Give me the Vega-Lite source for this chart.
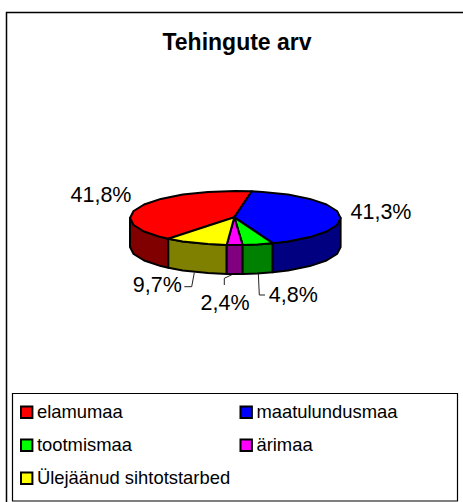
{
"$schema":"https://vega.github.io/schema/vega-lite/v6.json",
"width":463,"height":502,"padding":0,"autosize":{"type":"none"},
"background":"white",
"config":{"view":{"stroke":null}},
"title":{"text":"Tehingute arv","font":"Liberation Sans","fontSize":23,"fontWeight":"bold","color":"#000000","anchor":"middle","frame":"group","dx":5.5,"dy":55,"offset":0},
"datasets":{
"frames":[{"frame":"chart"}],
"outline":[
{"part":"elamumaa külg","i":0,"x":168.3,"y":238.8},{"part":"elamumaa külg","i":1,"x":160.8,"y":237.1},{"part":"elamumaa külg","i":2,"x":144.1,"y":231.5},{"part":"elamumaa külg","i":3,"x":133.6,"y":225},{"part":"elamumaa külg","i":4,"x":130,"y":218},{"part":"elamumaa külg","i":5,"x":130,"y":247},{"part":"elamumaa külg","i":6,"x":133.6,"y":254},{"part":"elamumaa külg","i":7,"x":144.1,"y":260.5},{"part":"elamumaa külg","i":8,"x":160.8,"y":266.1},{"part":"elamumaa külg","i":9,"x":168.3,"y":267.8},{"part":"elamumaa külg","i":10,"x":168.3,"y":238.8},
{"part":"Ülejäänud külg","i":0,"x":168.3,"y":238.8},{"part":"Ülejäänud külg","i":1,"x":182.7,"y":241.4},{"part":"Ülejäänud külg","i":2,"x":208,"y":244.1},{"part":"Ülejäänud külg","i":3,"x":226.7,"y":244.9},{"part":"Ülejäänud külg","i":4,"x":226.7,"y":273.9},{"part":"Ülejäänud külg","i":5,"x":208,"y":273.1},{"part":"Ülejäänud külg","i":6,"x":182.7,"y":270.4},{"part":"Ülejäänud külg","i":7,"x":168.3,"y":267.8},{"part":"Ülejäänud külg","i":8,"x":168.3,"y":238.8},
{"part":"ärimaa külg","i":0,"x":226.7,"y":244.9},{"part":"ärimaa külg","i":1,"x":242.6,"y":244.9},{"part":"ärimaa külg","i":2,"x":242.6,"y":273.9},{"part":"ärimaa külg","i":3,"x":226.7,"y":273.9},{"part":"ärimaa külg","i":4,"x":226.7,"y":244.9},
{"part":"tootmismaa külg","i":0,"x":242.6,"y":244.9},{"part":"tootmismaa külg","i":1,"x":257.2,"y":244.4},{"part":"tootmismaa külg","i":2,"x":272.7,"y":243.2},{"part":"tootmismaa külg","i":3,"x":272.7,"y":272.2},{"part":"tootmismaa külg","i":4,"x":257.2,"y":273.4},{"part":"tootmismaa külg","i":5,"x":242.6,"y":273.9},{"part":"tootmismaa külg","i":6,"x":242.6,"y":244.9},
{"part":"maatulundusmaa külg","i":0,"x":272.7,"y":243.2},{"part":"maatulundusmaa külg","i":1,"x":288,"y":241.4},{"part":"maatulundusmaa külg","i":2,"x":309.8,"y":237.1},{"part":"maatulundusmaa külg","i":3,"x":326.5,"y":231.5},{"part":"maatulundusmaa külg","i":4,"x":337,"y":225},{"part":"maatulundusmaa külg","i":5,"x":340.6,"y":218},{"part":"maatulundusmaa külg","i":6,"x":340.6,"y":247},{"part":"maatulundusmaa külg","i":7,"x":337,"y":254},{"part":"maatulundusmaa külg","i":8,"x":326.5,"y":260.5},{"part":"maatulundusmaa külg","i":9,"x":309.8,"y":266.1},{"part":"maatulundusmaa külg","i":10,"x":288,"y":270.4},{"part":"maatulundusmaa külg","i":11,"x":272.7,"y":272.2},{"part":"maatulundusmaa külg","i":12,"x":272.7,"y":243.2},
{"part":"elamumaa","i":0,"x":234.3,"y":217.3},{"part":"elamumaa","i":1,"x":168.3,"y":238.8},{"part":"elamumaa","i":2,"x":160.8,"y":237.1},{"part":"elamumaa","i":3,"x":144.1,"y":231.5},{"part":"elamumaa","i":4,"x":133.6,"y":225},{"part":"elamumaa","i":5,"x":130,"y":218},{"part":"elamumaa","i":6,"x":133.6,"y":211},{"part":"elamumaa","i":7,"x":144.1,"y":204.5},{"part":"elamumaa","i":8,"x":160.8,"y":198.9},{"part":"elamumaa","i":9,"x":182.7,"y":194.6},{"part":"elamumaa","i":10,"x":208,"y":191.9},{"part":"elamumaa","i":11,"x":235.3,"y":191},{"part":"elamumaa","i":12,"x":251.8,"y":191.3},{"part":"elamumaa","i":13,"x":234.3,"y":217.3},
{"part":"maatulundusmaa","i":0,"x":234.3,"y":217.3},{"part":"maatulundusmaa","i":1,"x":251.8,"y":191.3},{"part":"maatulundusmaa","i":2,"x":262.6,"y":191.9},{"part":"maatulundusmaa","i":3,"x":288,"y":194.6},{"part":"maatulundusmaa","i":4,"x":309.8,"y":198.9},{"part":"maatulundusmaa","i":5,"x":326.5,"y":204.5},{"part":"maatulundusmaa","i":6,"x":337,"y":211},{"part":"maatulundusmaa","i":7,"x":340.6,"y":218},{"part":"maatulundusmaa","i":8,"x":337,"y":225},{"part":"maatulundusmaa","i":9,"x":326.5,"y":231.5},{"part":"maatulundusmaa","i":10,"x":309.8,"y":237.1},{"part":"maatulundusmaa","i":11,"x":288,"y":241.4},{"part":"maatulundusmaa","i":12,"x":272.7,"y":243.2},{"part":"maatulundusmaa","i":13,"x":234.3,"y":217.3},
{"part":"tootmismaa","i":0,"x":234.3,"y":217.3},{"part":"tootmismaa","i":1,"x":272.7,"y":243.2},{"part":"tootmismaa","i":2,"x":257.2,"y":244.4},{"part":"tootmismaa","i":3,"x":242.6,"y":244.9},{"part":"tootmismaa","i":4,"x":234.3,"y":217.3},
{"part":"ärimaa","i":0,"x":234.3,"y":217.3},{"part":"ärimaa","i":1,"x":242.6,"y":244.9},{"part":"ärimaa","i":2,"x":226.7,"y":244.9},{"part":"ärimaa","i":3,"x":234.3,"y":217.3},
{"part":"Ülejäänud sihtotstarbed","i":0,"x":234.3,"y":217.3},{"part":"Ülejäänud sihtotstarbed","i":1,"x":226.7,"y":244.9},{"part":"Ülejäänud sihtotstarbed","i":2,"x":208,"y":244.1},{"part":"Ülejäänud sihtotstarbed","i":3,"x":182.7,"y":241.4},{"part":"Ülejäänud sihtotstarbed","i":4,"x":168.3,"y":238.8},{"part":"Ülejäänud sihtotstarbed","i":5,"x":234.3,"y":217.3}
],
"leaders":[
{"slice":"Ülejäänud sihtotstarbed","i":0,"x":194.3,"y":272.7},{"slice":"Ülejäänud sihtotstarbed","i":1,"x":191.7,"y":286.7},{"slice":"Ülejäänud sihtotstarbed","i":2,"x":184.3,"y":286.7},
{"slice":"ärimaa","i":0,"x":233.3,"y":274},{"slice":"ärimaa","i":1,"x":224.3,"y":278.3},{"slice":"ärimaa","i":2,"x":224.3,"y":285},
{"slice":"tootmismaa","i":0,"x":258.3,"y":272.7},{"slice":"tootmismaa","i":1,"x":259.3,"y":295},{"slice":"tootmismaa","i":2,"x":265,"y":295}
],
"labels":[
{"slice":"elamumaa","share":"41,8%","x":101,"y":195.5},
{"slice":"maatulundusmaa","share":"41,3%","x":381,"y":212.5},
{"slice":"Ülejäänud sihtotstarbed","share":"9,7%","x":157.3,"y":286},
{"slice":"ärimaa","share":"2,4%","x":225,"y":303.5},
{"slice":"tootmismaa","share":"4,8%","x":293.3,"y":295.5}
]
},
"encoding":{
 "x":{"type":"quantitative","scale":{"domain":[0,463],"range":[0,463],"nice":false,"zero":false},"axis":null},
 "y":{"type":"quantitative","scale":{"domain":[0,502],"range":[0,502],"nice":false,"zero":false},"axis":null}
},
"layer":[
{"data":{"name":"frames"},"mark":{"type":"rect","fill":"white","stroke":"#000000","strokeWidth":1.5,"clip":true},
 "encoding":{"x":{"datum":6.5},"x2":{"datum":470},"y":{"datum":12.5},"y2":{"datum":510}}},
{"data":{"name":"frames"},"mark":{"type":"rect","fill":"white","stroke":"#000000","strokeWidth":1.2},
 "encoding":{"x":{"datum":12.5},"x2":{"datum":457.5},"y":{"datum":393.5},"y2":{"datum":501}}},
{"data":{"name":"leaders"},"mark":{"type":"line","stroke":"#222222","strokeWidth":1},
 "encoding":{"x":{"field":"x"},"y":{"field":"y"},"detail":{"field":"slice"},"order":{"field":"i","type":"quantitative"}}},
{"data":{"name":"outline"},"mark":{"type":"line","stroke":"#000000","strokeWidth":2,"strokeJoin":"round"},
 "encoding":{"x":{"field":"x"},"y":{"field":"y"},"detail":{"field":"part"},"order":{"field":"i","type":"quantitative"},
  "fill":{"field":"part","type":"nominal","scale":{"domain":["elamumaa","maatulundusmaa","tootmismaa","ärimaa","Ülejäänud sihtotstarbed","elamumaa külg","maatulundusmaa külg","tootmismaa külg","ärimaa külg","Ülejäänud külg"],"range":["#ff0000","#0000ff","#00ff00","#ff00ff","#ffff00","#800000","#000080","#008000","#800080","#808000"]},
  "legend":{"values":["elamumaa","maatulundusmaa","tootmismaa","ärimaa","Ülejäänud sihtotstarbed"],"title":null,"orient":"none","direction":"horizontal","legendX":17.5,"legendY":403,"columns":2,"columnPadding":5.5,"rowPadding":13,"padding":0,"symbolType":"square","symbolSize":130,"symbolStrokeColor":"#000000","symbolStrokeWidth":2,"labelFont":"Liberation Sans","labelFontSize":18.4,"labelColor":"#000000","labelOffset":1,"labelLimit":260}}}},
{"data":{"name":"labels"},"mark":{"type":"text","font":"Liberation Sans","fontSize":21.5,"color":"#000000","align":"center","baseline":"middle"},
 "encoding":{"x":{"field":"x"},"y":{"field":"y"},"text":{"field":"share"}}}
]
}
